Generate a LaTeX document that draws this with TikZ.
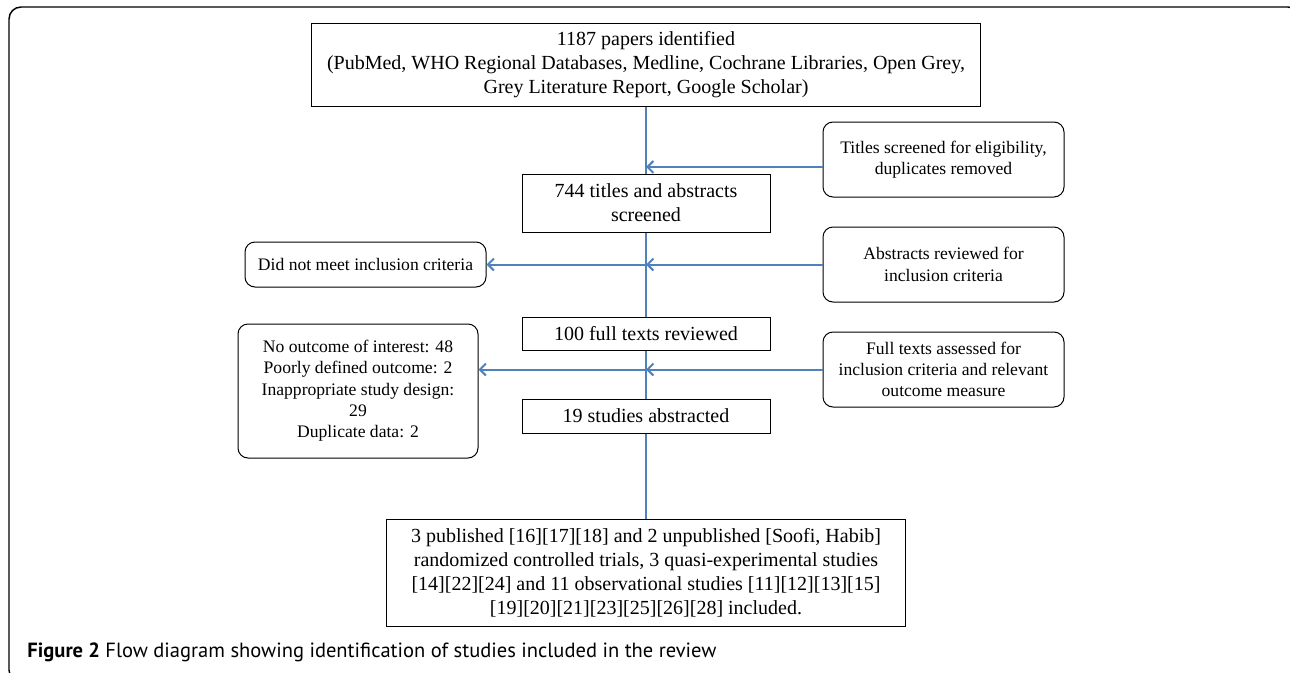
\documentclass[tikz,border=0pt]{standalone}
\usepackage{fontspec}
\setmainfont{Liberation Serif}
\newfontfamily\captionfont{PT Sans}
\usetikzlibrary{arrows.meta}
\definecolor{flowblue}{RGB}{79,129,189}

\tikzset{every picture/.style={line width=0.75pt}}
\tikzset{
	mainbox/.style={draw, fill=white, align=center, inner sep=2pt, font=\fontsize{15}{18}\selectfont},
	sidebox/.style={mainbox, rounded corners=7.5pt, font=\fontsize{13.2}{16}\selectfont},
	flowline/.style={draw=flowblue, line width=1.5pt},
	flowarrow/.style={flowline, -{Straight Barb[length=4.5pt,width=9pt]}}}

\begin{document}
\begin{tikzpicture}[x=0.75pt,y=0.75pt,yscale=-1,xscale=1]
	\useasboundingbox (0,0) rectangle (1290,672);

	%Frame (runs past the right and bottom edges)
	\draw[line width=1.1pt, rounded corners=9pt] (9,7) rectangle (1300,682);

	% Main column
	\node[mainbox, minimum width=502pt, minimum height=62.25pt] (papers) at (646,64.5) {1187 papers identified\\(PubMed, WHO Regional Databases, Medline, Cochrane Libraries, Open Grey,\\Grey Literature Report, Google Scholar)};
	\node[mainbox, minimum width=186pt, minimum height=43.5pt] (screened) at (646,203) {744 titles and abstracts\\screened};
	\node[mainbox, minimum width=186pt, minimum height=24.75pt] (fulltext) at (646,333.5) {100 full texts reviewed};
	\node[mainbox, minimum width=186pt, minimum height=25.5pt] (abstracted) at (646,416) {19 studies abstracted};
	\node[mainbox, minimum width=389.25pt, minimum height=80.25pt] (included) at (646,572.5) {3 published [16][17][18] and 2 unpublished [Soofi, Habib]\\randomized controlled trials, 3 quasi-experimental studies\\{[14]}[22][24] and 11 observational studies [11][12][13][15]\\{[19]}[20][21][23][25][26][28] included.};

	% Right column
	\node[sidebox, minimum width=180.75pt, minimum height=56.25pt] (titles) at (943.5,159.5) {Titles screened for eligibility,\\duplicates removed};
	\node[sidebox, minimum width=180.75pt, minimum height=56.25pt] (abstracts) at (943.5,264.5) {Abstracts reviewed for\\inclusion criteria};
	\node[sidebox, minimum width=180.75pt, minimum height=56.25pt] (fulltexts) at (943.5,369.5) {Full texts assessed for\\inclusion criteria and relevant\\outcome measure};

	% Left column
	\node[sidebox, minimum width=180.75pt, minimum height=33.75pt] (didnot) at (365.5,264.5) {Did not meet inclusion criteria};
	\node[sidebox, minimum width=180pt, minimum height=100.5pt] (nooutcome) at (358,391) {No outcome of interest: 48\\Poorly defined outcome: 2\\Inappropriate study design:\\29\\Duplicate data: 2};

	% Connectors
	\draw[flowline] (papers) -- (screened);
	\draw[flowline] (screened) -- (fulltext);
	\draw[flowline] (fulltext) -- (abstracted);
	\draw[flowline] (abstracted) -- (included);
	\draw[flowarrow] ([yshift=5.6pt]titles.west) -- ([yshift=5.6pt]titles.west -| papers.south);
	\draw[flowarrow] (abstracts.west) -- (abstracts.west -| papers.south);
	\draw[flowarrow] (abstracts.west -| papers.south) -- (abstracts.west -| didnot.east);
	\draw[flowarrow] (fulltexts.west) -- (fulltexts.west -| papers.south);
	\draw[flowarrow] (fulltexts.west -| papers.south) -- (fulltexts.west -| nooutcome.east);

	% Caption
	\node[anchor=west, inner sep=0pt, font=\captionfont\fontsize{15.4}{18}\selectfont] (caption) at (27,652) {\textbf{Figure 2} Flow diagram showing identification of studies included in the review};

\end{tikzpicture}
\end{document}
